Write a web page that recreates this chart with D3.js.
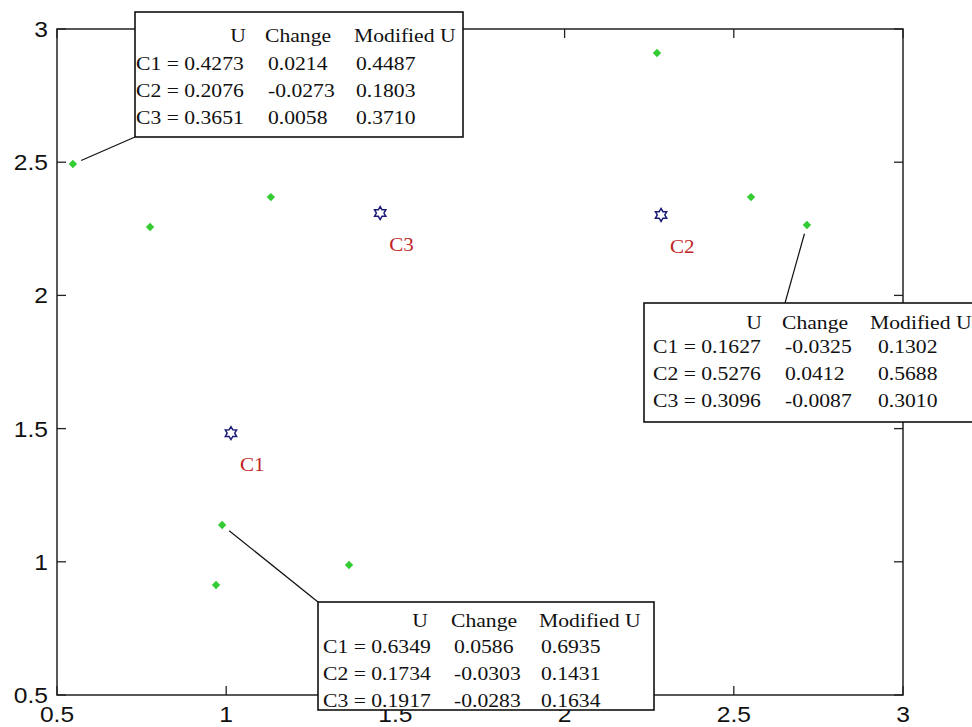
<!DOCTYPE html>
<html lang="en">
<head>
<meta charset="utf-8">
<title>Fuzzy membership update</title>
<script src="https://cdn.jsdelivr.net/npm/d3@7"></script>
<style>
  html, body { margin: 0; padding: 0; background: #fff; overflow: hidden; }
  .tick-label { font-family: "Liberation Sans", Arial, sans-serif; font-size: 22px; fill: #111; }
  .box-text { font-family: "Liberation Serif", "Times New Roman", serif; font-size: 19.5px; fill: #111; }
  .center-label { font-family: "Liberation Serif", "Times New Roman", serif; font-size: 19px; fill: #c02424; }
</style>
</head>
<body>
<div id="chart"></div>
<script>
// ---- data ----
var pointX = [0.547, 0.775, 1.132, 2.273, 2.551, 2.716, 0.988, 0.970, 1.363];
var pointY = [2.493, 2.257, 2.369, 2.910, 2.369, 2.264, 1.138, 0.913, 0.988];

var centerNames = ["C1", "C2", "C3"];
var centerX = [1.014, 2.285, 1.455];
var centerY = [1.483, 2.302, 2.309];

var tickValues = [0.5, 1, 1.5, 2, 2.5, 3];
var headers = ["U", "Change", "Modified U"];

// the three annotated points (index into pointX / pointY)
var notePoint = [0, 5, 6];
var noteU      = [[0.4273, 0.2076, 0.3651], [0.1627, 0.5276, 0.3096], [0.6349, 0.1734, 0.1917]];
var noteChange = [[0.0214, -0.0273, 0.0058], [-0.0325, 0.0412, -0.0087], [0.0586, -0.0303, -0.0283]];
var noteMod    = [[0.4487, 0.1803, 0.3710], [0.1302, 0.5688, 0.3010], [0.6935, 0.1431, 0.1634]];

// ---- layout ----
var W = 972, H = 727;
var plot = {left: 57, right: 903, top: 29, bottom: 695};
var tickLen = 9;
var serifScale = 1.11, sansScale = 1.12;

// box geometry: x, y, w, h, column starts, header line, first row, row step, leader anchor
var boxes = [
  {x: 135, y: 12,  w: 328, h: 125, cols: [1, 133, 221], uRight: 111, head: 30, row0: 58, step: 27, ax: 0,   ay: 125, modHead: -2},
  {x: 644, y: 303, w: 340, h: 119, cols: [9, 141, 234], uRight: 118, head: 26, row0: 50, step: 27, ax: 141, ay: 0,   modHead: -8},
  {x: 318, y: 602, w: 336, h: 108, cols: [5, 136, 223], uRight: 110, head: 25, row0: 51, step: 27, ax: 0,   ay: 0,   modHead: -2}
];

var svg = d3.select("#chart").append("svg")
  .attr("width", W).attr("height", H);

var x = d3.scaleLinear().domain([0.5, 3]).range([plot.left, plot.right]);
var y = d3.scaleLinear().domain([0.5, 3]).range([plot.bottom, plot.top]);

var fmt = d3.formatLocale({decimal: ".", thousands: ",", grouping: [3], currency: ["", ""], minus: "-"}).format(".4f");
var tickFmt = function(d) { return String(d); };

// ---- axes box with inward ticks on all sides ----
var axisG = svg.append("g");
axisG.append("rect")
  .attr("x", plot.left).attr("y", plot.top)
  .attr("width", plot.right - plot.left).attr("height", plot.bottom - plot.top)
  .attr("fill", "none").attr("stroke", "#222").attr("stroke-width", 1.5);

tickValues.forEach(function(t) {
  // bottom & top
  axisG.append("line").attr("x1", x(t)).attr("x2", x(t))
    .attr("y1", plot.bottom).attr("y2", plot.bottom - tickLen)
    .attr("stroke", "#222").attr("stroke-width", 1.3);
  axisG.append("line").attr("x1", x(t)).attr("x2", x(t))
    .attr("y1", plot.top).attr("y2", plot.top + tickLen)
    .attr("stroke", "#222").attr("stroke-width", 1.3);
  // left & right
  axisG.append("line").attr("y1", y(t)).attr("y2", y(t))
    .attr("x1", plot.left).attr("x2", plot.left + tickLen)
    .attr("stroke", "#222").attr("stroke-width", 1.3);
  axisG.append("line").attr("y1", y(t)).attr("y2", y(t))
    .attr("x1", plot.right).attr("x2", plot.right - tickLen)
    .attr("stroke", "#222").attr("stroke-width", 1.3);

  axisG.append("text").attr("class", "tick-label")
    .attr("transform", "translate(" + x(t) + "," + (plot.bottom + 27) + ") scale(" + sansScale + ",1)")
    .attr("text-anchor", "middle")
    .text(tickFmt(t));
  axisG.append("text").attr("class", "tick-label")
    .attr("transform", "translate(" + (plot.left - 9) + "," + (y(t) + 8) + ") scale(" + sansScale + ",1)")
    .attr("text-anchor", "end")
    .text(tickFmt(t));
});

// ---- data points (green diamonds) ----
var dr = 4.2;
var diamondPath = "M0," + (-dr) + "L" + dr + ",0L0," + dr + "L" + (-dr) + ",0Z";
svg.append("g").selectAll("path")
  .data(d3.range(pointX.length))
  .enter().append("path")
  .attr("d", diamondPath)
  .attr("transform", function(i) { return "translate(" + x(pointX[i]) + "," + y(pointY[i]) + ")"; })
  .attr("fill", "#33cc33");

// ---- cluster centres (hexagrams) ----
function hexagram(r) {
  var pts = [];
  for (var k = 0; k < 12; k++) {
    var a = -Math.PI / 2 + k * Math.PI / 6;
    var rr = (k % 2 === 0) ? r : r * 0.58;
    pts.push([rr * Math.cos(a), rr * Math.sin(a)]);
  }
  return "M" + pts.map(function(p) { return p[0].toFixed(2) + "," + p[1].toFixed(2); }).join("L") + "Z";
}
var cg = svg.append("g");
cg.selectAll("path")
  .data(d3.range(centerNames.length))
  .enter().append("path")
  .attr("d", hexagram(6.5))
  .attr("transform", function(i) { return "translate(" + x(centerX[i]) + "," + y(centerY[i]) + ")"; })
  .attr("fill", "none").attr("stroke", "#1c1c78").attr("stroke-width", 1.5);

cg.selectAll("text")
  .data(d3.range(centerNames.length))
  .enter().append("text")
  .attr("class", "center-label")
  .attr("transform", function(i) {
    return "translate(" + (x(centerX[i]) + 9) + "," + (y(centerY[i]) + 38) + ") scale(" + serifScale + ",1)";
  })
  .text(function(i) { return centerNames[i]; });

// ---- annotation boxes with leader lines ----
boxes.forEach(function(b, n) {
  var pi = notePoint[n];
  var px = x(pointX[pi]), py = y(pointY[pi]);
  var ax = b.x + b.ax, ay = b.y + b.ay;
  var dx = ax - px, dy = ay - py, len = Math.sqrt(dx * dx + dy * dy);
  var gap = 9;
  svg.append("line")
    .attr("x1", px + dx / len * gap).attr("y1", py + dy / len * gap)
    .attr("x2", ax).attr("y2", ay)
    .attr("stroke", "#111").attr("stroke-width", 1.2);

  var g = svg.append("g").attr("transform", "translate(" + b.x + "," + b.y + ")");
  g.append("rect").attr("width", b.w).attr("height", b.h)
    .attr("fill", "#fff").attr("stroke", "#111").attr("stroke-width", 1.6);

  function put(tx, ty, str, anchor) {
    g.append("text").attr("class", "box-text")
      .attr("text-anchor", anchor || "start")
      .attr("transform", "translate(" + tx + "," + ty + ") scale(" + serifScale + ",1)")
      .text(str);
  }
  put(b.uRight, b.head, headers[0], "end");
  put(b.cols[1] - 3, b.head, headers[1]);
  put(b.cols[2] + b.modHead, b.head, headers[2]);
  for (var r = 0; r < 3; r++) {
    var ry = b.row0 + r * b.step;
    put(b.cols[0], ry, "C" + (r + 1) + " = " + fmt(noteU[n][r]));
    put(b.cols[1], ry, fmt(noteChange[n][r]));
    put(b.cols[2], ry, fmt(noteMod[n][r]));
  }
});
</script>
</body>
</html>
